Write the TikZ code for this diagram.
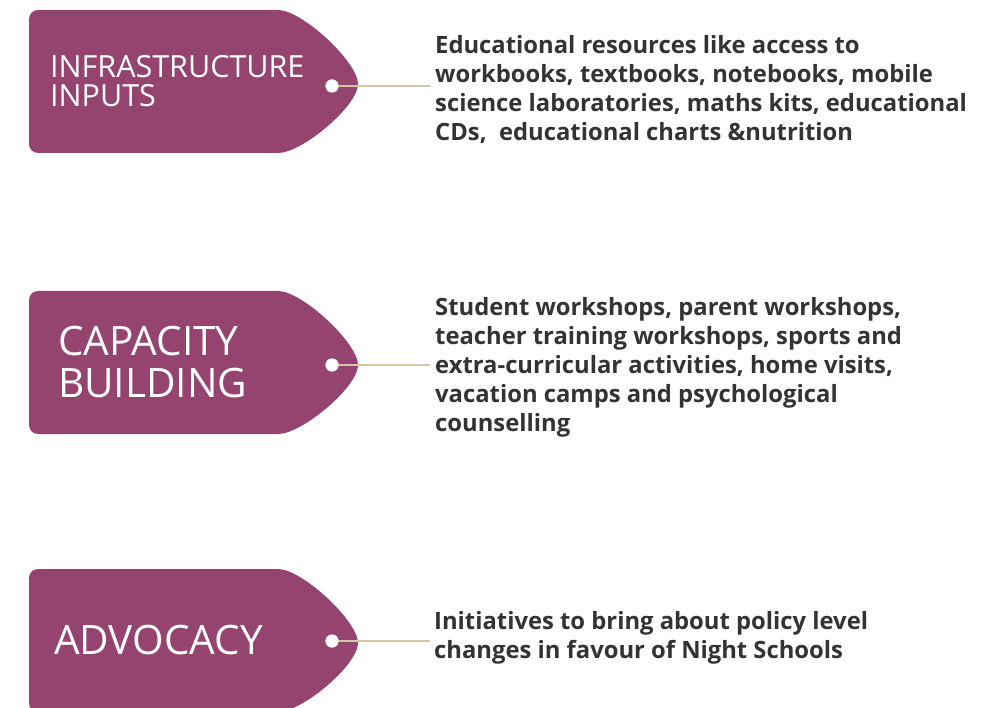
\documentclass[tikz,border=0pt]{standalone}
\usepackage{fontspec}
\setmainfont{Open Sans}
\definecolor{tagpurple}{HTML}{95446F}
\definecolor{stringtan}{HTML}{D6C5AB}
\definecolor{bodygray}{HTML}{333333}
\tikzset{
  tagbody/.style={fill=tagpurple},
  hole/.style={circle, fill=white, inner sep=0pt, minimum size=13pt},
  string/.style={draw=stringtan, line width=2pt},
  tagtext/.style={anchor=west, align=left, text=white, inner sep=0pt},
  desc/.style={anchor=west, align=left, text=bodygray, inner sep=0pt,
    font=\bfseries\fontsize{23.8}{29}\selectfont}
}
\begin{document}
\begin{tikzpicture}[x=1pt, y=-1pt]
\useasboundingbox (0,0) rectangle (998,708);

%% tag shapes
\foreach \t in {10,291,569}
\fill[tagbody] (278,\t) [rounded corners=9]-- (29,\t) -- (29,\t+143) [sharp corners]-- (278,\t+143)
  .. controls (302,\t+143) and (358,\t+96) .. (358,\t+74)
  .. controls (358,\t+52) and (302,\t) .. (278,\t) -- cycle;

%% tag labels
\node[tagtext, font=\fontsize{30.5}{29}\selectfont] (infra) at (50,81) {INFRASTRUCTURE\\INPUTS};
\node[tagtext, font=\fontsize{40.5}{42}\selectfont] (capacity) at (58,362) {CAPACITY\\BUILDING};
\node[tagtext, font=\fontsize{40.5}{42}\selectfont] (advocacy) at (54,640) {ADVOCACY};

%% holes
\node[hole] (h1) at (332,86) {};
\node[hole] (h2) at (332,365) {};
\node[hole] (h3) at (332,641) {};

%% descriptions
\node[desc] (d1) at (435,89) {Educational resources like access to\\workbooks, textbooks, notebooks, mobile\\science laboratories, maths kits, educational\\CDs,\ \ educational charts \&nutrition};
\node[desc] (d2) at (435,367) {Student workshops, parent workshops,\\teacher training workshops, sports and\\extra-curricular activities, home visits,\\vacation camps and psychological\\counselling};
\node[desc] (d3) at (434,638) {Initiatives to bring about policy level\\changes in favour of Night Schools};

%% strings
\draw[string] (h1.center) -- (430,86);
\draw[string] (h2.center) -- (430,365);
\draw[string] (h3.center) -- (430,641);
\foreach \n in {h1,h2,h3}
\node[hole] at (\n) {};

\end{tikzpicture}
\end{document}
